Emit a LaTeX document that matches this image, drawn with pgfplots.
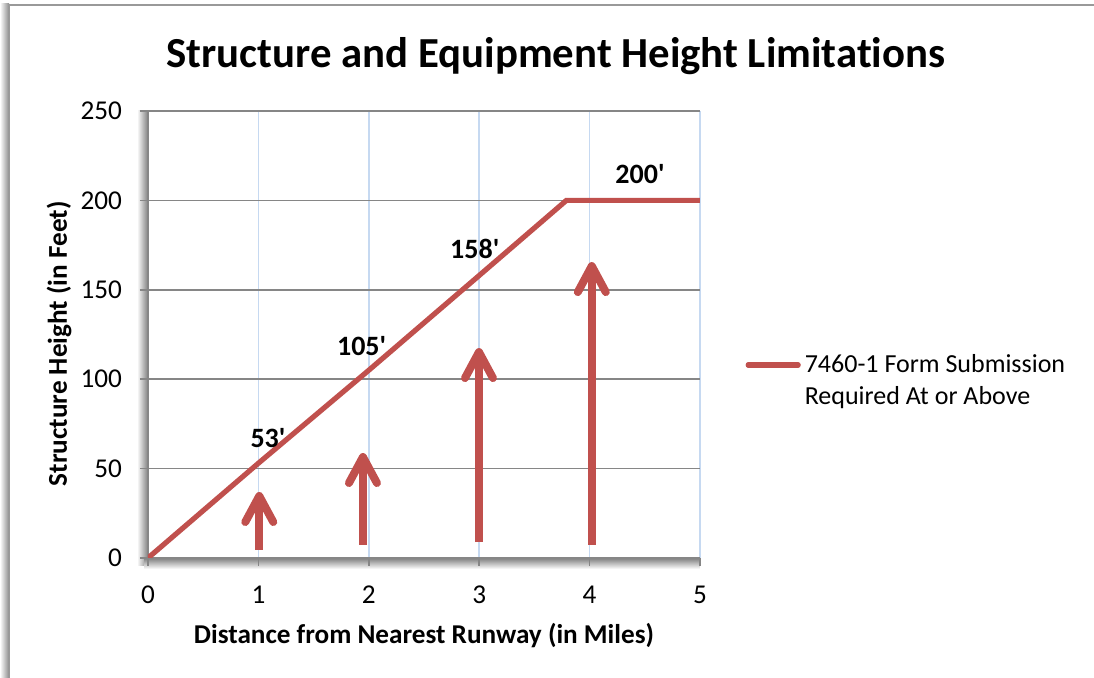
\documentclass[border=0pt]{standalone}
\usepackage{fontspec}
\setmainfont{Carlito}[Ligatures=NoCommon]
\usepackage{pgfplots}
\pgfplotsset{compat=1.18}
\usetikzlibrary{arrows.meta}
\definecolor{xred}{HTML}{C0504D}
\definecolor{gridgray}{HTML}{868686}
\definecolor{gridblue}{HTML}{C6D9F1}
\begin{document}
\begin{tikzpicture}[x=1pt,y=1pt]
\path[use as bounding box] (0,0) rectangle (547,339);
% outer frame
\shade[left color=white, right color=black!45] (0,0) rectangle (4.5,337);
\draw[black!40, line width=1.2pt] (4.5,0) -- (4.5,336.5) -- (547,336.5);
% axis shadows
\shade[left color=white, right color=black!50] (68.5,56) rectangle (74,283.5);
\shade[bottom color=white, top color=black!50] (72,54.5) rectangle (350,60);
\node[font=\bfseries\fontsize{21.4}{25}\selectfont] at (278,311) {Structure and Equipment Height Limitations};
\begin{axis}[
  at={(74pt,60pt)}, anchor=south west, scale only axis,
  width=276pt, height=223.5pt,
  xmin=0, xmax=5, ymin=0, ymax=250,
  xtick={0,1,2,3,4,5}, ytick={0,50,100,150,200,250},
  axis lines=left, axis line style={-, draw=gridgray, line width=1.2pt},
  xmajorgrids, ymajorgrids,
  x grid style={gridblue, line width=0.8pt},
  y grid style={gridgray, line width=0.8pt},
  tick align=outside, major tick length=4pt,
  tick style={gridgray, line width=0.8pt},
  /pgf/number format/assume math mode=true,
  ticklabel style={font=\fontsize{13.6}{15}\selectfont},
  xticklabel style={yshift=-6.5pt},
  yticklabel style={xshift=-5.5pt},
  xlabel={Distance from Nearest Runway (in Miles)},
  ylabel={Structure Height (in Feet)},
  xlabel style={font=\bfseries\fontsize{13.6}{15}\selectfont, at={(axis description cs:0.5,-0.1745)}, anchor=center},
  ylabel style={font=\bfseries\fontsize{13.6}{15}\selectfont, at={(axis description cs:-0.161,0.479)}, anchor=center},
  legend style={at={(1.071,0.396)}, anchor=west, draw=none, fill=none,
    font=\fontsize{13}{16}\selectfont, nodes={align=left}},
  legend cell align=left,
  legend image code/.code={\draw[#1, line width=2.6pt, line cap=round] (0pt,8pt) -- (25pt,8pt);},
]
\addplot[xred, line width=2.6pt, line cap=round] coordinates {(0,0) (1,53) (2,105) (3,158) (3.79,200) (5,200)};
\addlegendentry{7460-1 Form Submission\\Required At or Above}
\addplot[xred, line width=4pt, -{Straight Barb[length=13pt, width=14pt, round]}, forget plot] coordinates {(1.008,4.5) (1.008,36.9)};
\addplot[xred, line width=4pt, -{Straight Barb[length=13pt, width=14pt, round]}, forget plot] coordinates {(1.947,7.3) (1.947,58.7)};
\addplot[xred, line width=4pt, -{Straight Barb[length=13pt, width=14pt, round]}, forget plot] coordinates {(2.998,8.9) (2.998,117.4)};
\addplot[xred, line width=4pt, -{Straight Barb[length=13pt, width=14pt, round]}, forget plot] coordinates {(4.02,7.3) (4.02,165.5)};
\node[font=\bfseries\fontsize{14}{16}\selectfont] at (axis cs:1.087,67) {53\textquotesingle};
\node[font=\bfseries\fontsize{14}{16}\selectfont] at (axis cs:1.935,118.5) {105\textquotesingle};
\node[font=\bfseries\fontsize{14}{16}\selectfont] at (axis cs:2.96,173) {158\textquotesingle};
\node[font=\bfseries\fontsize{14}{16}\selectfont] at (axis cs:4.457,215) {200\textquotesingle};
\end{axis}
\end{tikzpicture}
\end{document}
